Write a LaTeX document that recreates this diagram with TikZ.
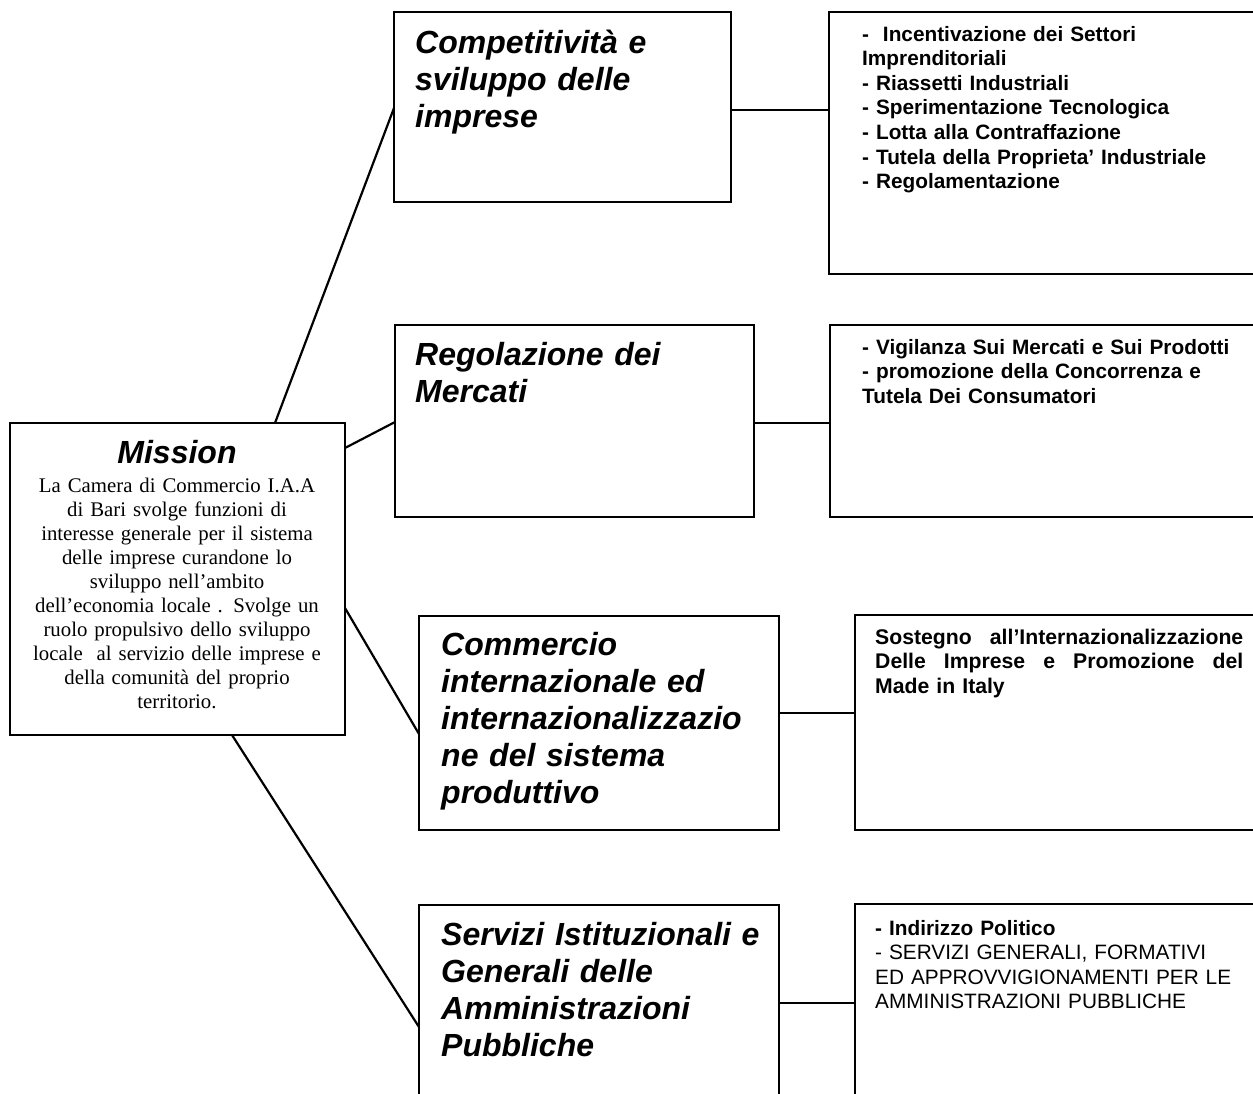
\documentclass[tikz,border=0pt]{standalone}
\usepackage{fontspec}
\setmainfont{Liberation Serif}
\newfontfamily\arial{Liberation Sans}
\begin{document}
\begin{tikzpicture}[x=1pt,y=-1pt,
  box/.style={draw=black, line width=2.6pt, rectangle, inner sep=0pt, outer sep=0pt, anchor=north west},
  conn/.style={draw=black, line width=2.2pt},
  title/.style={anchor=base west, inner sep=0pt, align=left, text width=#1,
    font=\arial\bfseries\itshape\fontsize{32}{37}\selectfont},
  list/.style={anchor=base west, inner sep=0pt, align=left, text width=#1,
    font=\arial\bfseries\fontsize{20.8}{24.6}\selectfont},
  missiontitle/.style={anchor=base, inner sep=0pt, font=\arial\bfseries\itshape\fontsize{32}{37}\selectfont},
  missionbody/.style={anchor=base, inner sep=0pt, align=center, text width=335pt,
    font=\fontsize{20.8}{24.1}\selectfont}
]
\useasboundingbox (0,0) rectangle (1253,1093);
\clip (0,0) rectangle (1253,1093);

% Mission
\node[box, minimum width=335pt, minimum height=312pt] (m) at (10,423) {};
\node[missiontitle] (mt) at (177,463) {Mission};
\node[missionbody] (mb) at (177,492) {La Camera di Commercio I.A.A\\
di Bari svolge funzioni di\\
interesse generale per il sistema\\
delle imprese curandone lo\\
sviluppo nell’ambito\\
dell’economia locale . Svolge un\\
ruolo propulsivo dello sviluppo\\
locale\ \ al servizio delle imprese e\\
della comunità del proprio\\
territorio.};

% Middle boxes
\node[box, minimum width=337pt, minimum height=190pt] (b1) at (394,12) {};
\node[box, minimum width=359pt, minimum height=192pt] (b2) at (395,325) {};
\node[box, minimum width=360pt, minimum height=214pt] (b3) at (419,616) {};
\node[box, minimum width=360pt, minimum height=220pt] (b4) at (419,905) {};

\node[title=320pt] (t1) at (415,53) {Competitività e\\sviluppo delle\\imprese};
\node[title=330pt] (t2) at (415,365) {Regolazione dei\\Mercati};
\node[title=340pt] (t3) at (441,655) {Commercio\\internazionale ed\\internazionalizzazio\\ne del sistema\\produttivo};
\node[title=340pt] (t4) at (441,945) {Servizi Istituzionali e\\Generali delle\\Amministrazioni\\Pubbliche};

% Right boxes
\node[box, minimum width=440pt, minimum height=262pt] (r1) at (829,12) {};
\node[box, minimum width=440pt, minimum height=192pt] (r2) at (830,325) {};
\node[box, minimum width=420pt, minimum height=215pt] (r3) at (855,615) {};
\node[box, minimum width=420pt, minimum height=220pt] (r4) at (855,904) {};

\node[list=400pt] (l1) at (862,41) {-\ \ Incentivazione dei Settori\\
Imprenditoriali\\
- Riassetti Industriali\\
- Sperimentazione Tecnologica\\
- Lotta alla Contraffazione\\
- Tutela della Proprieta’ Industriale\\
- Regolamentazione};
\node[list=400pt] (l2) at (862,354) {- Vigilanza Sui Mercati e Sui Prodotti\\
- promozione della Concorrenza e\\
Tutela Dei Consumatori};
\node[list=380pt, font=\arial\bfseries\fontsize{21.2}{24.6}\selectfont] (l3) at (875,644) {\makebox[368pt][l]{Sostegno\hfill all’Internazionalizzazione}\\
\makebox[368pt][l]{Delle\hfill Imprese\hfill e\hfill Promozione\hfill del}\\
Made in Italy};
\node[list=380pt] (l4) at (875,935) {- Indirizzo Politico\\
{\mdseries - SERVIZI GENERALI, FORMATIVI}\\
{\mdseries ED APPROVVIGIONAMENTI PER LE}\\
{\mdseries AMMINISTRAZIONI PUBBLICHE}};

% Connectors from mission
\draw[conn] ([xshift=265pt]m.north west) -- ([yshift=-96pt]b1.north west);
\draw[conn] ([yshift=-25pt]m.north east) -- ([yshift=-97pt]b2.north west);
\draw[conn] ([yshift=-185pt]m.north east) -- ([yshift=-118pt]b3.north west);
\draw[conn] ([xshift=222pt]m.south west) -- ([yshift=-122pt]b4.north west);

% Connectors to right boxes
\draw[conn] ([yshift=-98pt]b1.north east) -- ([yshift=-98pt]b1.north east -| r1.west);
\draw[conn] ([yshift=-98pt]b2.north east) -- ([yshift=-98pt]b2.north east -| r2.west);
\draw[conn] ([yshift=-97pt]b3.north east) -- ([yshift=-97pt]b3.north east -| r3.west);
\draw[conn] ([yshift=-98pt]b4.north east) -- ([yshift=-98pt]b4.north east -| r4.west);
\end{tikzpicture}
\end{document}
